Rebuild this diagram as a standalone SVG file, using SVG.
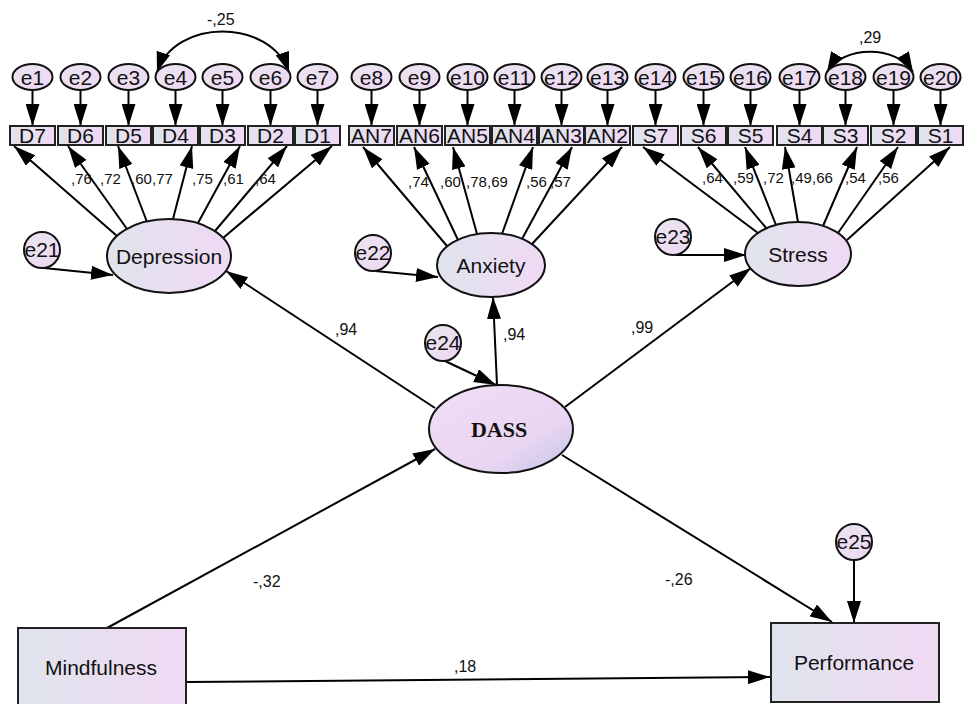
<svg xmlns="http://www.w3.org/2000/svg" width="965" height="704" viewBox="0 0 965 704">
<defs>
<linearGradient id="gH" x1="0" y1="0" x2="1" y2="0"><stop offset="0" stop-color="#dfe4ec"/><stop offset="1" stop-color="#f0d9f4"/></linearGradient>
<linearGradient id="gE" x1="0" y1="0" x2="1" y2="1"><stop offset="0" stop-color="#e9e6f0"/><stop offset="1" stop-color="#efd6f3"/></linearGradient>
<linearGradient id="gD" x1="0" y1="0" x2="1" y2="1"><stop offset="0" stop-color="#efdcf4"/><stop offset="0.65" stop-color="#ead6f2"/><stop offset="1" stop-color="#bfc6e6"/></linearGradient>
<marker id="ah" viewBox="0 0 22 14" refX="22" refY="7" markerWidth="22" markerHeight="14" markerUnits="userSpaceOnUse" orient="auto"><path d="M0,0 L22,7 L0,14 z" fill="#000"/></marker>
<marker id="ah2" viewBox="0 0 20 14" refX="20" refY="7" markerWidth="20" markerHeight="14" markerUnits="userSpaceOnUse" orient="auto-start-reverse"><path d="M0,0 L20,7 L0,14 z" fill="#000"/></marker>
</defs>
<style>
.c{stroke:#000;stroke-width:2;fill:none;marker-end:url(#ah)}
.cv{stroke:#000;stroke-width:2;fill:none;marker-end:url(#ah2);marker-start:url(#ah2)}
.box{fill:url(#gH);stroke:#222;stroke-width:2}
.lat{fill:url(#gH);stroke:#111;stroke-width:2}
.err{fill:url(#gE);stroke:#111;stroke-width:2}
.dass{fill:url(#gD);stroke:#111;stroke-width:2}
text{font-family:"Liberation Sans",Arial,sans-serif;fill:#111}
.t{font-size:21px;text-anchor:middle}
.bt{font-size:21px;text-anchor:middle}
.lt{font-size:21px;text-anchor:middle}
.ld{font-size:15px}
.lb{font-size:16px}
.ds{font-family:"Liberation Serif","Times New Roman",serif;font-weight:bold;font-size:22px;text-anchor:middle}
</style>
<rect width="965" height="704" fill="#fff"/>
<g id="connectors">
<line class="c" x1="32.5" y1="90" x2="32.5" y2="126"/>
<line class="c" x1="80.5" y1="90" x2="80.5" y2="126"/>
<line class="c" x1="128.5" y1="90" x2="128.5" y2="126"/>
<line class="c" x1="175.5" y1="90" x2="175.5" y2="126"/>
<line class="c" x1="222.5" y1="90" x2="222.5" y2="126"/>
<line class="c" x1="270.5" y1="90" x2="270.5" y2="126"/>
<line class="c" x1="317.5" y1="90" x2="317.5" y2="126"/>
<line class="c" x1="371.5" y1="90" x2="371.5" y2="126"/>
<line class="c" x1="419.5" y1="90" x2="419.5" y2="126"/>
<line class="c" x1="467.5" y1="90" x2="467.5" y2="126"/>
<line class="c" x1="514.5" y1="90" x2="514.5" y2="126"/>
<line class="c" x1="561.5" y1="90" x2="561.5" y2="126"/>
<line class="c" x1="607.5" y1="90" x2="607.5" y2="126"/>
<line class="c" x1="655.5" y1="90" x2="655.5" y2="126"/>
<line class="c" x1="703.5" y1="90" x2="703.5" y2="126"/>
<line class="c" x1="750.5" y1="90" x2="750.5" y2="126"/>
<line class="c" x1="799.5" y1="90" x2="799.5" y2="126"/>
<line class="c" x1="845.5" y1="90" x2="845.5" y2="126"/>
<line class="c" x1="893.5" y1="90" x2="893.5" y2="126"/>
<line class="c" x1="940.5" y1="90" x2="940.5" y2="126"/>
<path class="cv" d="M157,72 C175,18 270,18 289,72"/>
<path class="cv" d="M827,72 C843,45 897,45 913,72"/>
<line class="c" x1="117" y1="236" x2="14" y2="146"/>
<line class="c" x1="127" y1="229" x2="68" y2="146"/>
<line class="c" x1="147" y1="222" x2="118" y2="146"/>
<line class="c" x1="173" y1="219" x2="192" y2="146"/>
<line class="c" x1="198" y1="223" x2="240" y2="146"/>
<line class="c" x1="215" y1="231" x2="287" y2="146"/>
<line class="c" x1="223" y1="238" x2="332" y2="146"/>
<line class="c" x1="447" y1="246" x2="363" y2="147"/>
<line class="c" x1="458" y1="240" x2="414" y2="147"/>
<line class="c" x1="477" y1="234" x2="453" y2="147"/>
<line class="c" x1="502" y1="234" x2="533" y2="147"/>
<line class="c" x1="522" y1="239" x2="572" y2="147"/>
<line class="c" x1="532" y1="244" x2="622" y2="147"/>
<line class="c" x1="758" y1="233" x2="643" y2="147"/>
<line class="c" x1="767" y1="229" x2="698" y2="147"/>
<line class="c" x1="776" y1="225" x2="745" y2="147"/>
<line class="c" x1="798" y1="222" x2="785" y2="147"/>
<line class="c" x1="823" y1="226" x2="857" y2="147"/>
<line class="c" x1="838" y1="233" x2="898" y2="147"/>
<line class="c" x1="847" y1="240" x2="950" y2="147"/>
<line class="c" x1="44" y1="268" x2="113" y2="275"/>
<line class="c" x1="375" y1="271" x2="438" y2="277"/>
<line class="c" x1="675" y1="255" x2="746" y2="255"/>
<line class="c" x1="445" y1="361" x2="496" y2="385"/>
<line class="c" x1="854" y1="560" x2="854" y2="623"/>
<line class="c" x1="435" y1="408" x2="226" y2="271"/>
<line class="c" x1="497" y1="385" x2="493" y2="297"/>
<line class="c" x1="565" y1="407" x2="751" y2="268"/>
<line class="c" x1="562" y1="455" x2="832" y2="622"/>
<line class="c" x1="107" y1="628" x2="435" y2="449"/>
<line class="c" x1="186" y1="682" x2="770" y2="677"/>
<text class="lb" x="207" y="25">-,25</text>
<text class="lb" x="859" y="43">,29</text>
<text class="ld" x="71" y="184">,76</text>
<text class="ld" x="100" y="184">,72</text>
<text class="ld" x="131" y="184">,60</text>
<text class="ld" x="152" y="184">,77</text>
<text class="ld" x="192" y="184">,75</text>
<text class="ld" x="223" y="184">,61</text>
<text class="ld" x="255" y="184">,64</text>
<text class="ld" x="408" y="187">,74</text>
<text class="ld" x="440" y="187">,60</text>
<text class="ld" x="466" y="187">,78</text>
<text class="ld" x="487" y="187">,69</text>
<text class="ld" x="526" y="187">,56</text>
<text class="ld" x="550" y="187">,57</text>
<text class="ld" x="702" y="183">,64</text>
<text class="ld" x="733" y="183">,59</text>
<text class="ld" x="763" y="183">,72</text>
<text class="ld" x="791" y="183">,49</text>
<text class="ld" x="812" y="183">,66</text>
<text class="ld" x="845" y="183">,54</text>
<text class="ld" x="878" y="183">,56</text>
<text class="lb" x="335" y="335">,94</text>
<text class="lb" x="503" y="340">,94</text>
<text class="lb" x="631" y="333">,99</text>
<text class="lb" x="253" y="587">-,32</text>
<text class="lb" x="665" y="585">-,26</text>
<text class="lb" x="454" y="672">,18</text>
</g>
<g id="e1"><ellipse class="err" cx="32.5" cy="77" rx="20" ry="13"/><text class="t" x="32.5" y="84.5">e1</text></g>
<g id="e2"><ellipse class="err" cx="80.5" cy="77" rx="20" ry="13"/><text class="t" x="80.5" y="84.5">e2</text></g>
<g id="e3"><ellipse class="err" cx="128.5" cy="77" rx="20" ry="13"/><text class="t" x="128.5" y="84.5">e3</text></g>
<g id="e4"><ellipse class="err" cx="175.5" cy="77" rx="20" ry="13"/><text class="t" x="175.5" y="84.5">e4</text></g>
<g id="e5"><ellipse class="err" cx="222.5" cy="77" rx="20" ry="13"/><text class="t" x="222.5" y="84.5">e5</text></g>
<g id="e6"><ellipse class="err" cx="270.5" cy="77" rx="20" ry="13"/><text class="t" x="270.5" y="84.5">e6</text></g>
<g id="e7"><ellipse class="err" cx="317.5" cy="77" rx="20" ry="13"/><text class="t" x="317.5" y="84.5">e7</text></g>
<g id="e8"><ellipse class="err" cx="371.5" cy="77" rx="20" ry="13"/><text class="t" x="371.5" y="84.5">e8</text></g>
<g id="e9"><ellipse class="err" cx="419.5" cy="77" rx="20" ry="13"/><text class="t" x="419.5" y="84.5">e9</text></g>
<g id="e10"><ellipse class="err" cx="467.5" cy="77" rx="20" ry="13"/><text class="t" x="467.5" y="84.5">e10</text></g>
<g id="e11"><ellipse class="err" cx="514.5" cy="77" rx="20" ry="13"/><text class="t" x="514.5" y="84.5">e11</text></g>
<g id="e12"><ellipse class="err" cx="561.5" cy="77" rx="20" ry="13"/><text class="t" x="561.5" y="84.5">e12</text></g>
<g id="e13"><ellipse class="err" cx="607.5" cy="77" rx="20" ry="13"/><text class="t" x="607.5" y="84.5">e13</text></g>
<g id="e14"><ellipse class="err" cx="655.5" cy="77" rx="20" ry="13"/><text class="t" x="655.5" y="84.5">e14</text></g>
<g id="e15"><ellipse class="err" cx="703.5" cy="77" rx="20" ry="13"/><text class="t" x="703.5" y="84.5">e15</text></g>
<g id="e16"><ellipse class="err" cx="750.5" cy="77" rx="20" ry="13"/><text class="t" x="750.5" y="84.5">e16</text></g>
<g id="e17"><ellipse class="err" cx="799.5" cy="77" rx="20" ry="13"/><text class="t" x="799.5" y="84.5">e17</text></g>
<g id="e18"><ellipse class="err" cx="845.5" cy="77" rx="20" ry="13"/><text class="t" x="845.5" y="84.5">e18</text></g>
<g id="e19"><ellipse class="err" cx="893.5" cy="77" rx="20" ry="13"/><text class="t" x="893.5" y="84.5">e19</text></g>
<g id="e20"><ellipse class="err" cx="940.5" cy="77" rx="20" ry="13"/><text class="t" x="940.5" y="84.5">e20</text></g>
<g id="D7"><rect class="box" x="10" y="126" width="45" height="19"/><text class="bt" x="32.5" y="143">D7</text></g>
<g id="D6"><rect class="box" x="58" y="126" width="45" height="19"/><text class="bt" x="80.5" y="143">D6</text></g>
<g id="D5"><rect class="box" x="106" y="126" width="45" height="19"/><text class="bt" x="128.5" y="143">D5</text></g>
<g id="D4"><rect class="box" x="153" y="126" width="45" height="19"/><text class="bt" x="175.5" y="143">D4</text></g>
<g id="D3"><rect class="box" x="200" y="126" width="45" height="19"/><text class="bt" x="222.5" y="143">D3</text></g>
<g id="D2"><rect class="box" x="248" y="126" width="45" height="19"/><text class="bt" x="270.5" y="143">D2</text></g>
<g id="D1"><rect class="box" x="295" y="126" width="45" height="19"/><text class="bt" x="317.5" y="143">D1</text></g>
<g id="AN7"><rect class="box" x="349" y="126" width="45" height="19"/><text class="bt" x="371.5" y="143">AN7</text></g>
<g id="AN6"><rect class="box" x="397" y="126" width="45" height="19"/><text class="bt" x="419.5" y="143">AN6</text></g>
<g id="AN5"><rect class="box" x="445" y="126" width="45" height="19"/><text class="bt" x="467.5" y="143">AN5</text></g>
<g id="AN4"><rect class="box" x="492" y="126" width="45" height="19"/><text class="bt" x="514.5" y="143">AN4</text></g>
<g id="AN3"><rect class="box" x="539" y="126" width="45" height="19"/><text class="bt" x="561.5" y="143">AN3</text></g>
<g id="AN2"><rect class="box" x="585" y="126" width="45" height="19"/><text class="bt" x="607.5" y="143">AN2</text></g>
<g id="S7"><rect class="box" x="633" y="126" width="45" height="19"/><text class="bt" x="655.5" y="143">S7</text></g>
<g id="S6"><rect class="box" x="681" y="126" width="45" height="19"/><text class="bt" x="703.5" y="143">S6</text></g>
<g id="S5"><rect class="box" x="728" y="126" width="45" height="19"/><text class="bt" x="750.5" y="143">S5</text></g>
<g id="S4"><rect class="box" x="777" y="126" width="45" height="19"/><text class="bt" x="799.5" y="143">S4</text></g>
<g id="S3"><rect class="box" x="823" y="126" width="45" height="19"/><text class="bt" x="845.5" y="143">S3</text></g>
<g id="S2"><rect class="box" x="871" y="126" width="45" height="19"/><text class="bt" x="893.5" y="143">S2</text></g>
<g id="S1"><rect class="box" x="918" y="126" width="45" height="19"/><text class="bt" x="940.5" y="143">S1</text></g>
<g id="Depression"><ellipse class="lat" cx="169" cy="256" rx="62" ry="37"/><text class="lt" x="169" y="264">Depression</text></g>
<g id="Anxiety"><ellipse class="lat" cx="491" cy="265" rx="54" ry="32"/><text class="lt" x="491" y="273">Anxiety</text></g>
<g id="Stress"><ellipse class="lat" cx="798" cy="254" rx="53" ry="32"/><text class="lt" x="798" y="262">Stress</text></g>
<g id="DASS"><ellipse class="dass" cx="501" cy="429" rx="72" ry="44"/><text class="ds" x="499" y="437">DASS</text></g>
<g id="e21"><circle class="err" cx="42" cy="250" r="18"/><text class="t" x="42" y="257">e21</text></g>
<g id="e22"><circle class="err" cx="373" cy="253" r="18"/><text class="t" x="373" y="260">e22</text></g>
<g id="e23"><circle class="err" cx="673" cy="237" r="18"/><text class="t" x="673" y="244">e23</text></g>
<g id="e24"><circle class="err" cx="443" cy="343" r="18"/><text class="t" x="443" y="350">e24</text></g>
<g id="e25"><circle class="err" cx="854" cy="542" r="18"/><text class="t" x="854" y="549">e25</text></g>
<g id="Mindfulness"><rect class="box" x="18" y="628" width="168" height="84"/><text class="lt" x="101" y="675">Mindfulness</text></g>
<g id="Performance"><rect class="box" x="771" y="623" width="168" height="79"/><text class="lt" x="854" y="670">Performance</text></g>
</svg>
